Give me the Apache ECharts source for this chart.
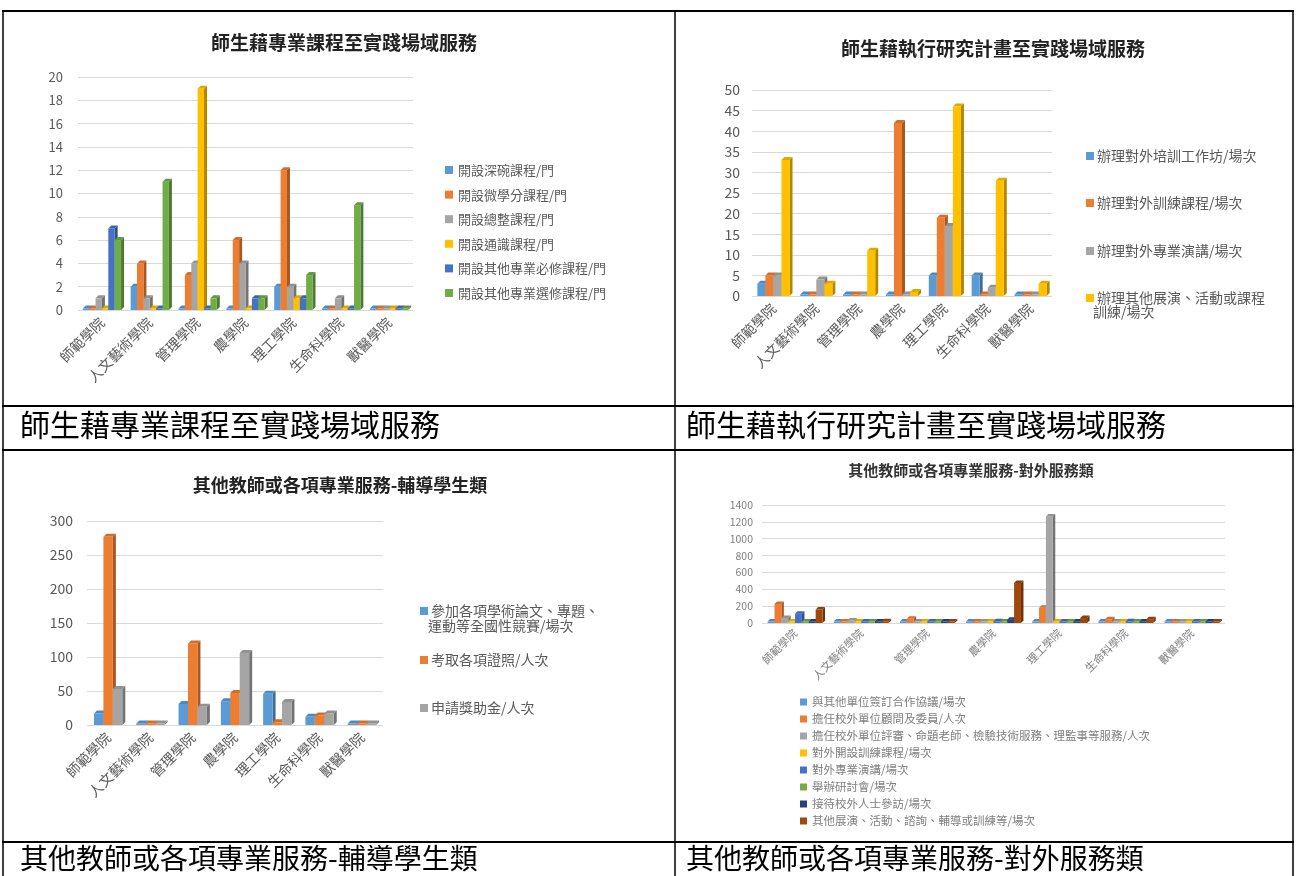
<!DOCTYPE html>
<html><head><meta charset="utf-8">
<script src="https://cdn.jsdelivr.net/npm/echarts@6/dist/echarts.min.js"></script>
<style>html,body{margin:0;padding:0;background:#fff}#c{width:1296px;height:876px}</style>
</head><body><div id="c"></div>
<script>
// ---------- data ----------
const colleges = ['師範學院','人文藝術學院','管理學院','農學院','理工學院','生命科學院','獸醫學院'];

// Chart 1: 師生藉專業課程至實踐場域服務
const c1Title = '師生藉專業課程至實踐場域服務';
const c1Names = ['開設深碗課程/門','開設微學分課程/門','開設總整課程/門','開設通識課程/門','開設其他專業必修課程/門','開設其他專業選修課程/門'];
const c1Deep     = [0,2,0,0,2,0,0];
const c1Micro    = [0,4,3,6,12,0,0];
const c1Capstone = [1,1,4,4,2,1,0];
const c1General  = [0,0,19,0,1,0,0];
const c1Required = [7,0,0,1,1,0,0];
const c1Elective = [6,11,1,1,3,9,0];
const c1Ticks = {max:20, interval:2};

// Chart 2: 師生藉執行研究計畫至實踐場域服務
const c2Title = '師生藉執行研究計畫至實踐場域服務';
const c2Names = ['辦理對外培訓工作坊/場次','辦理對外訓練課程/場次','辦理對外專業演講/場次','辦理其他展演、活動或課程訓練/場次'];
const c2Workshop = [3,0,0,0,5,5,0];
const c2Training = [5,0,0,42,19,0,0];
const c2Lecture  = [5,4,0,0,17,2,0];
const c2Other    = [33,3,11,1,46,28,3];
const c2Ticks = {max:50, interval:5};

// Chart 3: 其他教師或各項專業服務-輔導學生類
const c3Title = '其他教師或各項專業服務-輔導學生類';
const c3Names = ['參加各項學術論文、專題、運動等全國性競賽/場次','考取各項證照/人次','申請獎助金/人次'];
const c3Contest = [17,0,31,35,46,12,0];
const c3License = [277,0,120,47,4,14,0];
const c3Grant   = [53,0,27,106,34,17,0];
const c3Ticks = {max:300, interval:50};

// Chart 4: 其他教師或各項專業服務-對外服務類
const c4Title = '其他教師或各項專業服務-對外服務類';
const c4Names = ['與其他單位簽訂合作協議/場次','擔任校外單位顧問及委員/人次','擔任校外單位評審、命題老師、檢驗技術服務、理監事等服務/人次','對外開設訓練課程/場次','對外專業演講/場次','舉辦研討會/場次','接待校外人士參訪/場次','其他展演、活動、諮詢、輔導或訓練等/場次'];
const c4Agreement = [3,3,3,3,3,3,0];
const c4Advisor   = [225,5,50,3,180,45,0];
const c4Judge     = [60,30,8,3,1265,10,0];
const c4Course    = [2,2,2,10,2,5,0];
const c4Lecture   = [110,8,12,20,15,20,0];
const c4Seminar   = [2,2,2,2,2,2,0];
const c4Visit     = [3,3,3,40,8,3,0];
const c4Other     = [160,20,10,475,60,45,0];
const c4Ticks = {max:1400, interval:200};

const captions = ['師生藉專業課程至實踐場域服務','師生藉執行研究計畫至實踐場域服務','其他教師或各項專業服務-輔導學生類','其他教師或各項專業服務-對外服務類'];

// ---------- styles ----------
const palette = ['#5B9BD5','#ED7D31','#A5A5A5','#FFC000','#4472C4','#70AD47','#264478','#9E480E'];
const FONT = '"Noto Sans CJK TC","Noto Sans",sans-serif';
const TXT = '#595959';

function shade(hex, f){
  const n = parseInt(hex.slice(1),16);
  const r = Math.round(((n>>16)&255)*f), g = Math.round(((n>>8)&255)*f), b = Math.round((n&255)*f);
  return 'rgb('+r+','+g+','+b+')';
}

function bars3D(gi, names, arrays, colors, groupRatio, depth){
  const n = names.length;
  return names.map((name, si) => ({
    type:'custom', name, xAxisIndex:gi, yAxisIndex:gi, z: 2+si,
    itemStyle:{color:colors[si]},
    data: arrays[si].map((v,i)=>[i,v]),
    encode:{x:0,y:1},
    renderItem:(params, api)=>{
      const ci = api.value(0), v = api.value(1);
      const base = api.coord([ci,0]), top = api.coord([ci,v]);
      const cw = api.size([1,0])[0];
      const gw = cw*groupRatio, bw = gw/n;
      const x = base[0]-gw/2+si*bw;
      const b = base[1];
      let y = top[1]; if (b-y < 1.5) y = b-1.5;
      const d = depth, col = colors[si];
      return {type:'group', children:[
        {type:'polygon', shape:{points:[[x+bw,y],[x+bw+d,y-d],[x+bw+d,b-d],[x+bw,b]]}, style:{fill:shade(col,0.7)}},
        {type:'polygon', shape:{points:[[x,y],[x+d,y-d],[x+bw+d,y-d],[x+bw,y]]}, style:{fill:shade(col,0.88)}},
        {type:'rect', shape:{x:x, y:y, width:bw, height:b-y}, style:{fill:col}}
      ]};
    }
  }));
}

const grids = [
  {left:78, top:77, width:335, height:233},
  {left:752, top:90, width:300, height:206},
  {left:87, top:521, width:296, height:204},
  {left:762, top:505, width:463, height:118}
];
const ticks = [c1Ticks, c2Ticks, c3Ticks, c4Ticks];
const yFont = [13,14,14,10.5];
const yMargin = [15,12,14,9];
const xFont = [14,14,14,11];

const xAxes = grids.map((g,i)=>({
  type:'category', gridIndex:i, data:colleges,
  axisLine:{show:false}, axisTick:{show:false},
  axisLabel:{rotate:45, color: i===3 ? '#7f7f7f' : TXT, fontSize:xFont[i], fontFamily:FONT, margin: i===3?8:10, interval:0}
}));
const yAxes = grids.map((g,i)=>({
  type:'value', gridIndex:i, min:0, max:ticks[i].max, interval:ticks[i].interval,
  axisLine:{show:false}, axisTick:{show:false},
  axisLabel:{color: i===3 ? '#7f7f7f' : TXT, fontSize:yFont[i], fontFamily:FONT, margin:yMargin[i], formatter:(v)=>String(v)},
  splitLine:{lineStyle:{color:'#D9D9D9', width:1.2}}
}));

const series = [].concat(
  bars3D(0, c1Names, [c1Deep,c1Micro,c1Capstone,c1General,c1Required,c1Elective], palette, 0.8, 3),
  bars3D(1, c2Names, [c2Workshop,c2Training,c2Lecture,c2Other], palette, 0.75, 3),
  bars3D(2, c3Names, [c3Contest,c3License,c3Grant], palette, 0.67, 3),
  bars3D(3, c4Names, [c4Agreement,c4Advisor,c4Judge,c4Course,c4Lecture,c4Seminar,c4Visit,c4Other], palette, 0.83, 2.5)
);

function lg(extra){
  return Object.assign({orient:'vertical', icon:'rect', itemWidth:8, itemHeight:8, selectedMode:false,
    textStyle:{color:TXT, fontFamily:FONT, fontSize:14, padding:[0,0,0,-2]}}, extra);
}
const legends = [
  lg({left:440, top:158, itemGap:10.6, data:c1Names, textStyle:{color:TXT,fontFamily:FONT,fontSize:13,lineHeight:14}}),
  lg({left:1081, top:144, data:[c2Names[0]]}),
  lg({left:1081, top:191, data:[c2Names[1]]}),
  lg({left:1081, top:239, data:[c2Names[2]]}),
  lg({left:1081, top:286, data:[c2Names[3]], formatter:()=>'辦理其他展演、活動或課程'}),
  lg({left:415, top:599, data:[c3Names[0]], formatter:()=>'參加各項學術論文、專題、'}),
  lg({left:415, top:648, data:[c3Names[1]]}),
  lg({left:415, top:696, data:[c3Names[2]]}),
  lg({left:795, top:691, itemGap:5, itemWidth:7, itemHeight:7, data:c4Names, textStyle:{color:'#7f7f7f',fontFamily:FONT,fontSize:11.5,lineHeight:12}})
];

const titles = [
  {text:c1Title, left:339, top:28, textAlign:'center', textStyle:{fontSize:19, fontWeight:'bold', color:'#222', fontFamily:FONT}},
  {text:c2Title, left:988, top:34, textAlign:'center', textStyle:{fontSize:19, fontWeight:'bold', color:'#222', fontFamily:FONT}},
  {text:c3Title, left:335, top:471, textAlign:'center', textStyle:{fontSize:18, fontWeight:'bold', color:'#222', fontFamily:FONT}},
  {text:c4Title, left:966, top:458, textAlign:'center', textStyle:{fontSize:15, fontWeight:'bold', color:'#333', fontFamily:FONT}}
];

function L(x1,y1,x2,y2,w){ return {type:'line', silent:true, z:100, shape:{x1,y1,x2,y2}, style:{stroke:'#000', lineWidth:w||2}}; }
const graphics = [
  L(2,11,1294,11,2),
  L(3,10,3,876,1.5),
  L(1293,10,1293,876,1.5),
  L(675,10,675,876,1.5),
  L(2,406,1294,406,2),
  L(2,450,1294,450,2),
  L(2,842,1294,842,2),
  {type:'text', left:20, top:410, style:{text:captions[0], fill:'#000', font:'30px '+FONT}},
  {type:'text', left:686, top:410, style:{text:captions[1], fill:'#000', font:'30px '+FONT}},
  {type:'text', left:20, top:844, style:{text:captions[2], fill:'#000', font:'28px '+FONT}},
  {type:'text', left:686, top:844, style:{text:captions[3], fill:'#000', font:'28px '+FONT}},
  {type:'text', left:1093, top:305, style:{text:'訓練/場次', fill:TXT, font:'14px '+FONT}},
  {type:'text', left:428, top:619, style:{text:'運動等全國性競賽/場次', fill:TXT, font:'14px '+FONT}}
];

const chart = echarts.init(document.getElementById('c'), null, {renderer:'canvas'});
chart.setOption({
  animation:false,
  backgroundColor:'#fff',
  title:titles,
  legend:legends,
  grid:grids,
  xAxis:xAxes,
  yAxis:yAxes,
  series:series,
  graphic:graphics
});
</script>
</body></html>
